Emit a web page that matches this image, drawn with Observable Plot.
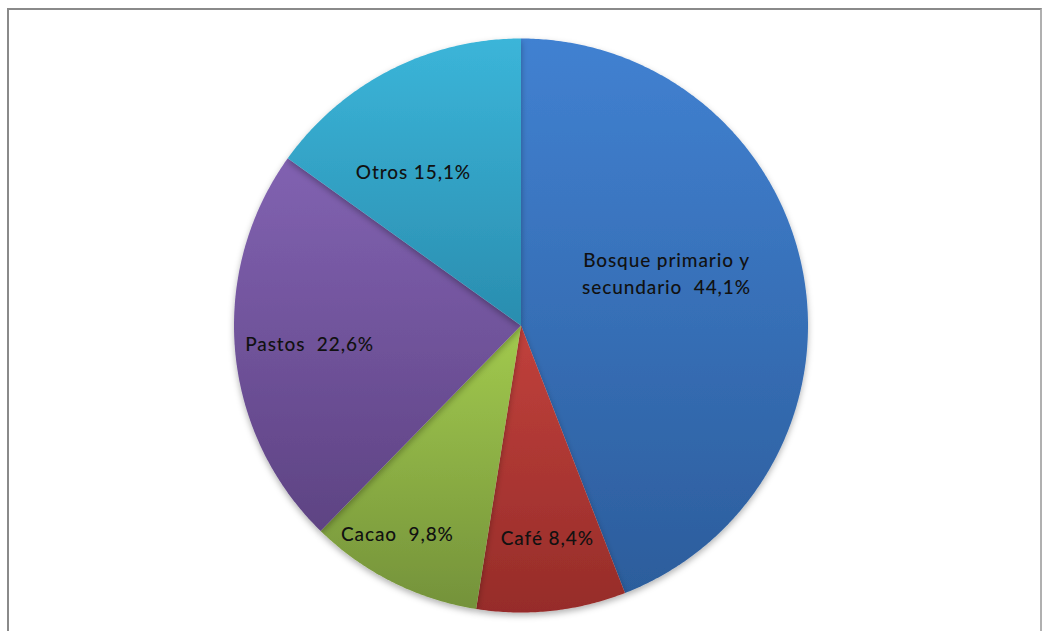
<!DOCTYPE html>
<html>
<head>
<meta charset="utf-8">
<script src="https://cdn.jsdelivr.net/npm/d3@7"></script>
<script src="https://cdn.jsdelivr.net/npm/@observablehq/plot@0.6"></script>
<style>
  html, body { margin: 0; padding: 0; background: #fff; overflow: hidden; }
  #frame { position: absolute; left: 7px; top: 8px; width: 1031px; height: 700px;
           border: 2px solid #8a8a8a; border-right-color: #b0b0b0; }
  #chart { position: absolute; left: 0; top: 0; }
  #chart text { letter-spacing: 0.9px; }
</style>
</head>
<body>
<div id="frame"></div>
<div id="chart"></div>
<script>
// ---- data ----
const categories = ["Bosque primario y secundario", "Café", "Cacao", "Pastos", "Otros"];
const values = [44.1, 8.4, 9.8, 22.6, 15.1];
const labels = ["Bosque primario y\nsecundario  44,1%", "Café 8,4%", "Cacao  9,8%", "Pastos  22,6%", "Otros 15,1%"];
// ---- styles ----
const topColors = ["#4181d1", "#c1413c", "#a2ca4e", "#8162b1", "#3bb5d9"];
const bottomColors = ["#2c5d9c", "#962c29", "#74923a", "#5e4383", "#2a8daf"];
const labelRadius = [0.54, 0.74, 0.84, 0.739, 0.657];
const labelShiftDeg = [-9.5, -1, 4.2, 0.4, -7.6];

const total = d3.sum(values);
const W = 1042, H = 631, R = 287, cx = 520.5, cy = 325;

// angles measured clockwise from 12 o'clock
let acc = 0;
const slices = values.map((v, i) => {
  const a0 = acc / total * 2 * Math.PI;
  acc += v;
  const a1 = acc / total * 2 * Math.PI;
  return {name: categories[i], value: v, a0, a1, i};
});

function arcPoints(s) {
  const pts = [{x: 0, y: 0}];
  const n = Math.max(2, Math.ceil((s.a1 - s.a0) / (Math.PI / 360)));
  for (let k = 0; k <= n; k++) {
    const a = s.a0 + (s.a1 - s.a0) * k / n;
    pts.push({x: Math.sin(a), y: Math.cos(a)});
  }
  pts.push({x: 0, y: 0});
  return pts;
}

const labelData = slices.map((s, i) => {
  const a = (s.a0 + s.a1) / 2 + labelShiftDeg[i] * Math.PI / 180;
  return {x: labelRadius[i] * Math.sin(a), y: labelRadius[i] * Math.cos(a), text: labels[i]};
});

const marks = [
  ...slices.map((s, i) => Plot.line(arcPoints(s), {
    x: "x", y: "y", fill: `url(#grad${i})`, stroke: "none", curve: "linear"
  })),
  Plot.text(labelData, {
    x: "x", y: "y", text: "text", fill: "#111",
    fontSize: 19, lineHeight: 1.42, fontWeight: 500, fontFamily: "Lato, 'Open Sans', sans-serif"
  })
];

const svg = Plot.plot({
  width: W, height: H,
  marginLeft: cx - R, marginRight: W - (cx + R),
  marginTop: cy - R, marginBottom: H - (cy + R),
  x: {domain: [-1, 1], axis: null},
  y: {domain: [-1, 1], axis: null},
  style: {background: "transparent", overflow: "visible"},
  marks
});

const d3svg = d3.select(svg);
const defs = d3svg.insert("defs", ":first-child");
slices.forEach((s, i) => {
  const g = defs.append("linearGradient").attr("id", `grad${i}`)
    .attr("x1", 0).attr("y1", 0).attr("x2", 0).attr("y2", 1);
  g.append("stop").attr("offset", "0%").attr("stop-color", topColors[i]);
  g.append("stop").attr("offset", "100%").attr("stop-color", bottomColors[i]);
});
const f = defs.append("filter").attr("id", "shadow")
  .attr("x", "-10%").attr("y", "-10%").attr("width", "120%").attr("height", "120%");
f.append("feDropShadow").attr("dx", 0).attr("dy", 3).attr("stdDeviation", 3)
  .attr("flood-color", "#000").attr("flood-opacity", 0.3);
d3svg.selectAll("g[aria-label='line']").attr("filter", "url(#shadow)");

document.getElementById("chart").appendChild(svg);
</script>
</body>
</html>
